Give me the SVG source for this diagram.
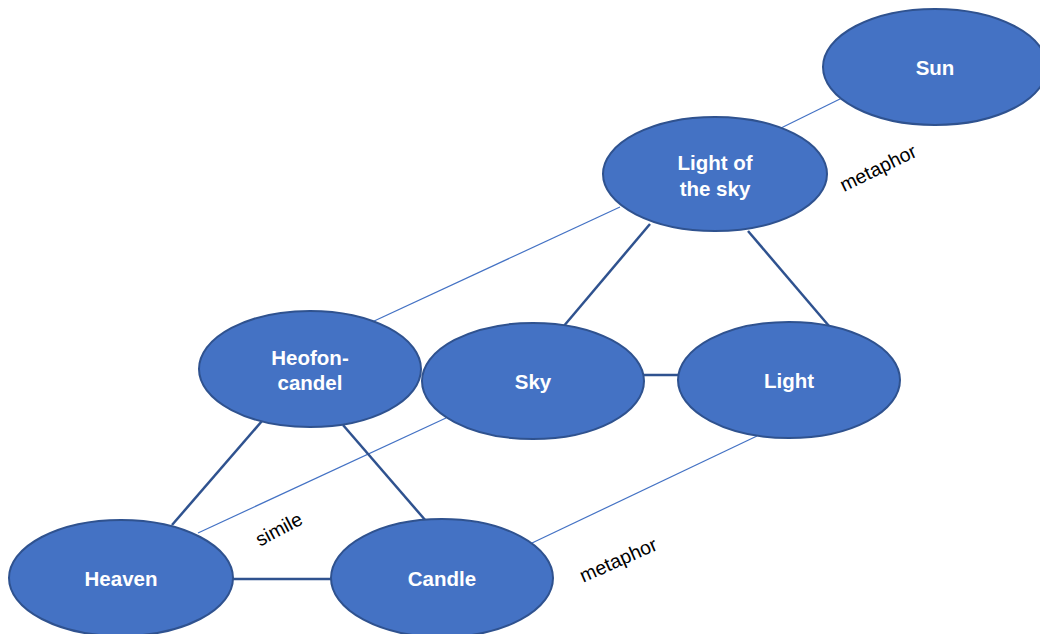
<svg xmlns="http://www.w3.org/2000/svg" width="1040" height="634" viewBox="0 0 1040 634">
  <style>
    .node { fill: #4472C4; stroke: #2F528F; stroke-width: 2; }
    .lbl { fill: #FFFFFF; font-family: "Liberation Sans", Arial, sans-serif; font-weight: bold; font-size: 20.5px; text-anchor: middle; }
    .rel { fill: #000000; font-family: "Liberation Sans", Arial, sans-serif; font-size: 19.5px; text-anchor: middle; }
    .thin { stroke: #4472C4; stroke-width: 1.2; fill: none; }
    .thick { stroke: #2F528F; stroke-width: 2.5; fill: none; }
  </style>
  <rect width="1040" height="634" fill="#FFFFFF"/>

  <!-- connectors -->
  <g id="connectors">
    <line class="thin" x1="781" y1="128" x2="842" y2="98"/>
    <line class="thin" x1="620" y1="207" x2="372" y2="322"/>
    <line class="thin" x1="446" y1="418" x2="198" y2="533"/>
    <line class="thin" x1="757" y1="436" x2="532" y2="543"/>
    <line class="thick" x1="650" y1="224" x2="563" y2="327"/>
    <line class="thick" x1="748" y1="231" x2="829" y2="326"/>
    <line class="thick" x1="643" y1="375" x2="680" y2="375"/>
    <line class="thick" x1="262" y1="421" x2="172" y2="525"/>
    <line class="thick" x1="343" y1="425" x2="426" y2="521"/>
    <line class="thick" x1="233" y1="579" x2="332" y2="579"/>
  </g>

  <!-- relation labels -->
  <g id="relations">
    <text class="rel" transform="translate(881,174) rotate(-26)">metaphor</text>
    <text class="rel" transform="translate(282,535) rotate(-28)">simile</text>
    <text class="rel" transform="translate(621,566) rotate(-24)">metaphor</text>
  </g>

  <!-- nodes -->
  <g id="sun">
    <ellipse class="node" cx="935" cy="67" rx="112" ry="58"/>
    <text class="lbl" x="935" y="75">Sun</text>
  </g>
  <g id="light-of-the-sky">
    <ellipse class="node" cx="715" cy="174" rx="112" ry="57"/>
    <text class="lbl" x="715" y="170">Light of</text>
    <text class="lbl" x="715" y="196">the sky</text>
  </g>
  <g id="heofon-candel">
    <ellipse class="node" cx="310" cy="369" rx="111" ry="58"/>
    <text class="lbl" x="310" y="365">Heofon-</text>
    <text class="lbl" x="310" y="390">candel</text>
  </g>
  <g id="sky">
    <ellipse class="node" cx="533" cy="381" rx="111" ry="58"/>
    <text class="lbl" x="533" y="389">Sky</text>
  </g>
  <g id="light">
    <ellipse class="node" cx="789" cy="380" rx="111" ry="58"/>
    <text class="lbl" x="789" y="388">Light</text>
  </g>
  <g id="heaven">
    <ellipse class="node" cx="121" cy="578" rx="112" ry="58"/>
    <text class="lbl" x="121" y="586">Heaven</text>
  </g>
  <g id="candle">
    <ellipse class="node" cx="442" cy="578" rx="111" ry="59"/>
    <text class="lbl" x="442" y="586">Candle</text>
  </g>
</svg>
